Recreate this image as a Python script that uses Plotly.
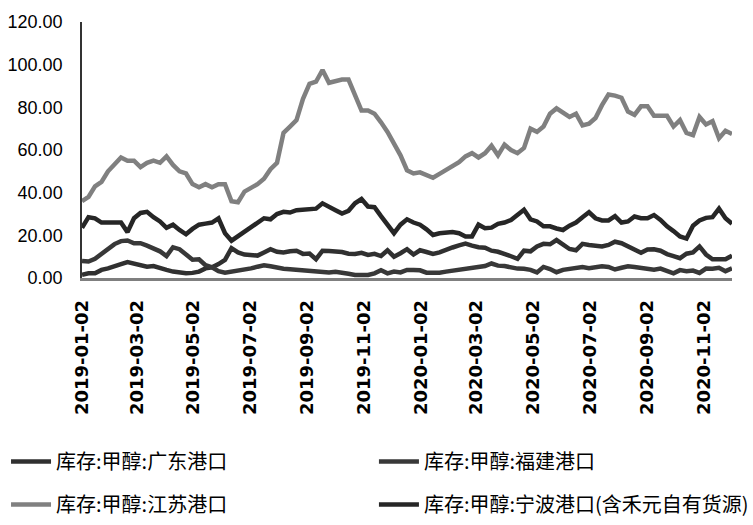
import datetime as dt
import plotly.graph_objects as go

# weekly dates (101 points)
start = dt.date(2019, 1, 2)
dates = [(start + dt.timedelta(days=7 * i)).isoformat() for i in range(101)]

names = ["库存:甲醇:广东港口", "库存:甲醇:福建港口", "库存:甲醇:江苏港口", "库存:甲醇:宁波港口(含禾元自有货源)"]

guangdong = [1.5, 2.2, 2.2, 3.8, 4.5, 5.3, 6.5, 7.5, 6.9, 6, 5.3, 5.6, 4.5, 3.8, 3, 2.5, 2.2, 2.4, 3, 4.5,
             5, 6.5, 8.5, 14, 12, 11,
             11, 10.5, 12, 13.5, 12.3, 12, 12.5, 12.8, 11.3, 11.5, 8.8, 12.8, 12.7, 12.5, 12.2, 11.4, 11.3, 11.8,
             10.8, 11.3, 10.3, 13, 10, 11.6, 13.5,
             11, 13, 12.2, 11.3, 12, 13.3, 14.3, 15.3, 16.1, 15.2, 14.4, 14.2, 12.8, 12.3, 11.5, 10.2, 9, 12.8,
             12.5, 14.8, 16, 15.8, 17.8, 15.8, 13.6,
             13, 16, 15.5, 15, 14.8, 15.5, 17, 16.3, 14.7, 13, 11.8, 13.4, 13.5, 12.8, 11.2, 10.3, 9.3, 11.4,
             12, 14.8, 11, 8.8, 8.8, 8.8, 10.5]

fujian = [8, 7.7, 9, 11.5, 13.9, 15.9, 17.3, 17.6, 16.3, 16.3, 15.2, 13.6, 12.5, 10.3, 14.4, 13.5, 11, 8.6, 8.8, 6,
          5, 3.2, 2.5, 3, 3.2, 3.6,
          4.5, 5.3, 6, 5.5, 4.8, 4.3, 4.1, 3.8, 3.8, 3.6, 3.4, 3, 2.6, 2.9, 2.6, 2, 1.4, 1.2, 1.4, 2.2, 3.6, 2.2,
          3, 2.6, 3.8,
          3.8, 3.6, 2.5, 2.3, 2.5, 3, 3.4, 3.8, 4.3, 4.7, 5.1, 5.6, 6.8, 5.8, 5.6, 4.8, 4.4, 4.3, 3.8, 2.6, 5.2,
          4.2, 2.7, 3.8, 4.2,
          4.3, 5.1, 4.6, 4.9, 5.5, 5.2, 4, 4.8, 5.5, 5.2, 4.6, 4.5, 3.9, 4.4, 3.2, 2.2, 3.7, 3.2, 3.5, 2.4, 4.4,
          4.3, 4.8, 3.2, 4.5]

jiangsu = [36, 38, 43, 45, 50, 53, 56.5, 55, 55, 52, 54, 55, 54, 57, 53, 50, 49, 44, 42.5, 44, 42.5, 44, 44, 36,
           35.5, 40.5,
           42, 44, 46.5, 51, 54, 68, 71, 74, 84, 91, 92, 97.5, 91.5, 92.5, 93, 93, 86, 78.5, 78.5, 77, 73, 68.5,
           63, 57.5, 50.5,
           49, 49.5, 48, 47, 48.8, 50.5, 52.3, 54.3, 57, 58.5, 56.5, 58.5, 62, 57.5, 62.5, 60, 58.5, 61, 70, 68.5,
           71, 77, 79.5, 77.5, 75.5,
           77, 71.5, 72.3, 75, 81, 86, 85.5, 84.5, 78, 76.5, 80.5, 80.5, 76, 76, 76, 71, 74, 68, 67, 75.5, 72,
           73.5, 65.5, 69, 67.5]

ningbo = [23.5, 28.5, 28, 26, 26, 26, 26, 21.5, 28, 30.5, 31, 28.5, 26.5, 23.5, 25, 22.5, 20.5, 23, 25, 25.5, 26,
          28, 21, 17.5, 19.5, 21.5,
          23.5, 25.7, 28, 27.5, 30, 31, 30.7, 31.8, 32, 32.2, 32.5, 35, 33.6, 31.8, 30.2, 31.5, 35, 37, 33.5, 33.2,
          29, 25, 21, 25, 27.5,
          26, 25, 22.8, 20.2, 21, 21.2, 21.5, 21, 19.5, 19.5, 25, 23.3, 23.6, 25.4, 26, 27.2, 29.5, 32, 27.5, 26.5,
          24.2, 24.2, 23.2, 22.5, 24.5,
          26, 28.5, 30.8, 28, 27, 27, 29, 26, 26.5, 28.8, 28, 28, 29.5, 27.2, 24.2, 22, 19.5, 18.5, 24.5, 27, 28.2,
          28.5, 32.5, 28, 25.4]

tick_dates = ["2019-01-02", "2019-03-02", "2019-05-02", "2019-07-02", "2019-09-02", "2019-11-02",
              "2020-01-02", "2020-03-02", "2020-05-02", "2020-07-02", "2020-09-02", "2020-11-02"]
y_ticks = [0, 20, 40, 60, 80, 100, 120]

series = [
    (names[0], guangdong, "#303030", "legend", "g1"),
    (names[1], fujian, "#383838", "legend2", "g2"),
    (names[2], jiangsu, "#808080", "legend", "g3"),
    (names[3], ningbo, "#262626", "legend2", "g4"),
]

fig = go.Figure()
for name, vals, color, leg, grp in series:
    fig.add_trace(go.Scatter(x=dates, y=vals, mode="lines", name=name,
                             line=dict(color=color, width=4.5),
                             legend=leg, legendgroup=grp))

legend_common = dict(
    xref="container", yref="container", xanchor="left", yanchor="top",
    font=dict(family="Noto Sans CJK SC", size=20, color="#000"),
    bgcolor="rgba(0,0,0,0)", tracegroupgap=14, itemwidth=40,
    orientation="v",
)

fig.update_layout(
    width=753, height=525,
    margin=dict(l=82, r=21, t=22, b=247, autoexpand=False),
    paper_bgcolor="white", plot_bgcolor="white",
    showlegend=True,
    legend=dict(x=0.008, y=0.158, **legend_common),
    legend2=dict(x=0.4966, y=0.158, **legend_common),
    xaxis=dict(
        type="date", range=[dates[0], dates[-1]], automargin=False,
        tickvals=tick_dates, tickformat="%Y-%m-%d", tickangle=-90,
        tickfont=dict(family="DejaVu Sans", size=18, color="#000", weight="bold"),
        showline=True, linecolor="#7f7f7f", linewidth=2.5,
        showgrid=False, zeroline=False,
        ticks="outside", ticklen=12, tickcolor="rgba(0,0,0,0)",
    ),
    yaxis=dict(
        range=[0, 120], tickvals=y_ticks, tickformat=".2f", automargin=False,
        tickfont=dict(family="Liberation Sans, Arial", size=18, color="#000"),
        showline=True, linecolor="#333", linewidth=1.5,
        showgrid=False, zeroline=False,
        ticks="outside", ticklen=14, tickcolor="rgba(0,0,0,0)",
    ),
)

fig.write_html("out.html", config={"displayModeBar": False},
               post_script="document.body.style.margin='0';")
